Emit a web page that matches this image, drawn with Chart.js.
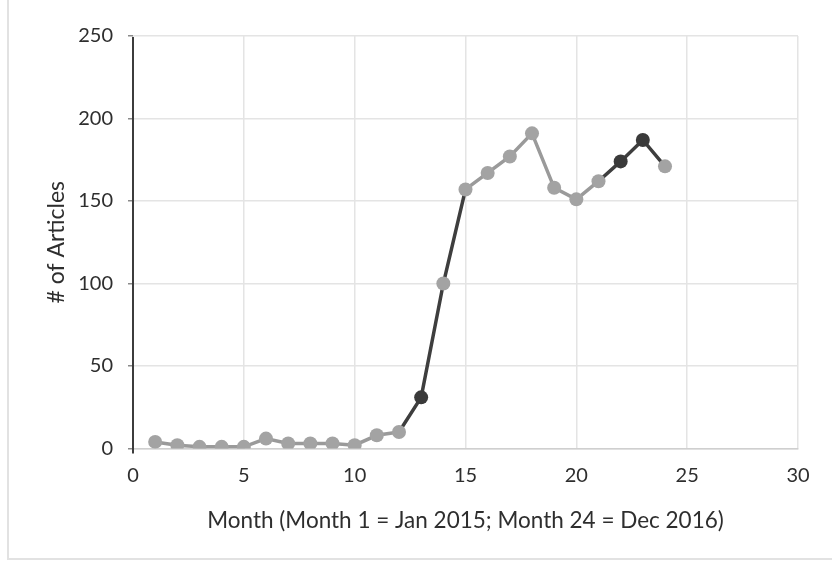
<!DOCTYPE html>
<html>
<head>
<meta charset="utf-8">
<script src="https://cdn.jsdelivr.net/npm/chart.js@4/dist/chart.umd.min.js"></script>
<style>
  html, body { margin: 0; padding: 0; background: #ffffff; }
  #wrap { width: 832px; height: 562px; position: relative; }
</style>
</head>
<body>
<div id="wrap"><canvas id="c" width="832" height="562"></canvas></div>
<script>
// Monthly article counts, month 1 = Jan 2015 ... month 24 = Dec 2016
const months = [1, 2, 3, 4, 5, 6, 7, 8, 9, 10, 11, 12, 13, 14, 15, 16, 17, 18, 19, 20, 21, 22, 23, 24];
const articles = [4, 2, 1, 1, 1, 6, 3, 3, 3, 2, 8, 10, 31, 100, 157, 167, 177, 191, 158, 151, 162, 174, 187, 171];
// Months whose markers are printed darker
const darkMonths = [13, 22, 23];
// Segments (by starting month) drawn with a darker line
const darkSegmentStarts = [12, 13, 14, 21, 22, 23];

const xTicks = [0, 5, 10, 15, 20, 25, 30];
const yTicks = [0, 50, 100, 150, 200, 250];

const points = months.map((m, i) => ({ x: m, y: articles[i] }));

const FONT = "Lato, 'Open Sans', sans-serif";
const TEXT = '#2e2e2e';

const framePlugin = {
  id: 'frame',
  beforeDraw(chart) {
    const ctx = chart.ctx;
    ctx.save();
    ctx.fillStyle = '#ffffff';
    ctx.fillRect(0, 0, chart.width, chart.height);
    ctx.strokeStyle = '#e2e2e2';
    ctx.lineWidth = 2;
    ctx.strokeRect(8, -4, 900, 563);
    ctx.restore();
  },
  afterDraw(chart) {
    // dark vertical value axis
    const { left, top, bottom } = chart.chartArea;
    const ctx = chart.ctx;
    ctx.save();
    ctx.strokeStyle = '#3c3c3c';
    ctx.lineWidth = 2;
    ctx.beginPath();
    ctx.moveTo(left, top + 1);
    ctx.lineTo(left, bottom + 5);
    ctx.stroke();
    ctx.restore();
  }
};

new Chart(document.getElementById('c'), {
  type: 'scatter',
  data: {
    datasets: [{
      data: points,
      showLine: true,
      borderColor: '#9a9a9a',
      borderWidth: 3.5,
      pointRadius: 7,
      pointHoverRadius: 7,
      pointBorderWidth: 0,
      pointBackgroundColor: months.map(m => darkMonths.includes(m) ? '#3a3a3a' : '#a3a3a3'),
      segment: {
        borderColor: ctx => darkSegmentStarts.includes(months[ctx.p0DataIndex]) ? '#3e3e3e' : '#9a9a9a'
      }
    }]
  },
  options: {
    responsive: false,
    animation: false,
    events: [],
    layout: { padding: { left: 0, top: 36, right: 34, bottom: 0 } },
    plugins: { legend: { display: false }, tooltip: { enabled: false } },
    scales: {
      x: {
        type: 'linear',
        min: 0, max: 30,
        afterBuildTicks: s => { s.ticks = xTicks.map(v => ({ value: v })); },
        afterFit: s => { s.height = 113.5; },
        grid: { color: '#e4e4e4', lineWidth: 1.5, drawTicks: false },
        border: { display: true, color: '#cfcfcf', width: 1.5 },
        ticks: { color: TEXT, font: { family: FONT, size: 20 }, padding: 15 },
        title: {
          display: true,
          text: 'Month (Month 1 = Jan 2015; Month 24 = Dec 2016)',
          color: TEXT,
          font: { family: FONT, size: 22.5 },
          padding: { top: 0, bottom: 28 }
        }
      },
      y: {
        type: 'linear',
        min: 0, max: 250,
        afterBuildTicks: s => { s.ticks = yTicks.map(v => ({ value: v })); },
        afterFit: s => { s.width = 133; },
        grid: { color: '#e4e4e4', lineWidth: 1.5, tickLength: 5, tickColor: '#8a8a8a' },
        border: { display: false },
        ticks: { color: TEXT, font: { family: FONT, size: 20 }, padding: 15 },
        title: {
          display: true,
          text: '# of Articles',
          color: TEXT,
          font: { family: FONT, size: 23 },
          padding: { top: 43, bottom: 0 }
        }
      }
    }
  },
  plugins: [framePlugin]
});
</script>
</body>
</html>
